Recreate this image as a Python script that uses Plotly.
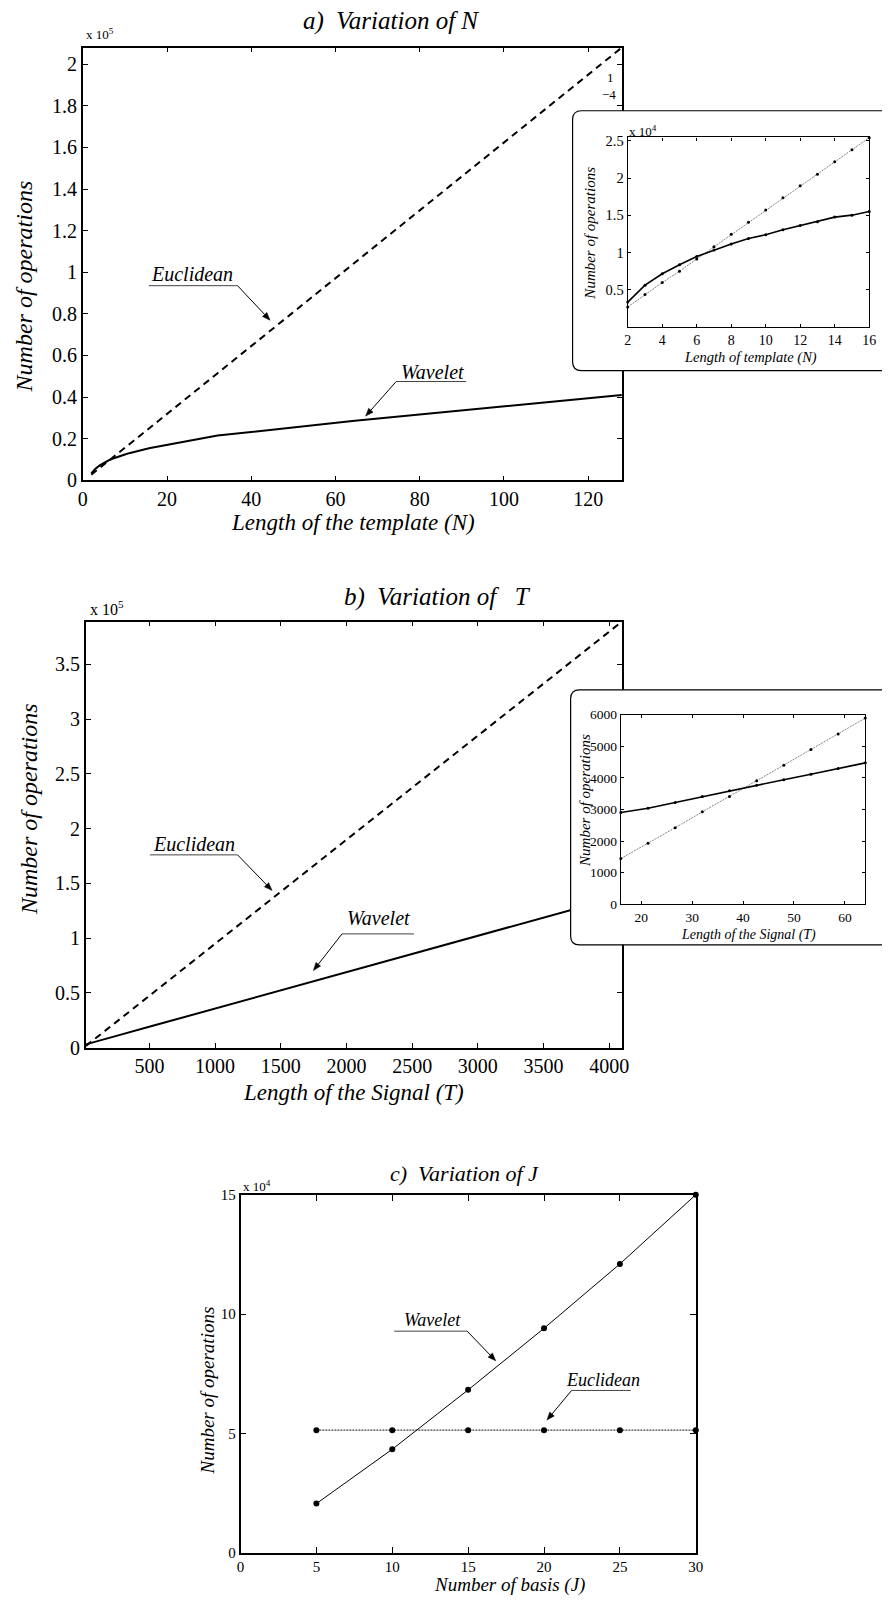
import math
import plotly.graph_objects as go

W, H = 890, 1606
F = "Liberation Serif"

# ---------------- data ----------------
# panel a (main)
N_main = [2, 3, 4, 5, 6, 7, 8, 9, 10, 11, 12, 13, 14, 15, 16, 32, 64, 128]
eu_a = [2710, 4370, 5980, 7510, 9130, 10790, 12450, 14060, 15720, 17340, 18950,
        20520, 22180, 23800, 25410, 51500, 103700, 208000]
wav_a = [3360, 5630, 7160, 8380, 9480, 10350, 11140, 11880, 12400, 13060, 13620,
         14150, 14760, 15020, 15500, 21500, 28500, 41000]
# panel a (inset)
N_in = [2, 3, 4, 5, 6, 7, 8, 9, 10, 11, 12, 13, 14, 15, 16]
eu_a_in = [2710, 4370, 5980, 7510, 9130, 10790, 12450, 14060, 15720, 17340, 18950,
           20520, 22180, 23800, 25410]
wav_a_in = [3360, 5630, 7160, 8380, 9480, 10350, 11140, 11880, 12400, 13060, 13620,
            14150, 14760, 15020, 15500]

# panel b (main)
T_main = [16, 32, 64, 128, 256, 512, 1024, 2048, 4096]
eu_b = [1446, 2923, 5887, 11960, 24120, 48440, 97080, 194360, 389000]
wav_b = [2903, 3405, 4472, 6600, 10900, 19400, 36500, 70500, 138500]
# panel b (inset)
T_in = [16, 21.33, 26.67, 32, 37.33, 42.67, 48, 53.33, 58.67, 64]
eu_b_in = [1446, 1928, 2421, 2923, 3405, 3908, 4400, 4892, 5385, 5887]
wav_b_in = [2903, 3036, 3220, 3405, 3590, 3764, 3938, 4113, 4297, 4472]

# panel c
J = [5, 10, 15, 20, 25, 30]
wav_c = [20500, 43300, 68200, 94000, 121000, 150000]
eu_c = [51300, 51300, 51300, 51300, 51300, 51300]

# tick labels
a_yt_vals = [0, 20000, 40000, 60000, 80000, 100000, 120000, 140000, 160000, 180000, 200000]
a_yt_text = ["0", "0.2", "0.4", "0.6", "0.8", "1", "1.2", "1.4", "1.6", "1.8", "2"]
a_xt_vals = [0, 20, 40, 60, 80, 100, 120]
ai_yt_vals = [5000, 10000, 15000, 20000, 25000]
ai_yt_text = ["0.5", "1", "1.5", "2", "2.5"]
ai_xt_vals = [2, 4, 6, 8, 10, 12, 14, 16]
b_yt_vals = [0, 50000, 100000, 150000, 200000, 250000, 300000, 350000]
b_yt_text = ["0", "0.5", "1", "1.5", "2", "2.5", "3", "3.5"]
b_xt_vals = [500, 1000, 1500, 2000, 2500, 3000, 3500, 4000]
bi_yt_vals = [0, 1000, 2000, 3000, 4000, 5000, 6000]
bi_xt_vals = [20, 30, 40, 50, 60]
c_yt_vals = [0, 50000, 100000, 150000]
c_yt_text = ["0", "5", "10", "15"]
c_xt_vals = [0, 5, 10, 15, 20, 25, 30]


def px(x):
    return x / W


def py(y):
    return 1 - y / H


def dom_x(l, r):
    return [max(0, l / W), min(1, r / W)]


def dom_y(t, b):
    return [max(0, 1 - b / H), min(1, 1 - t / H)]


def ax_style(dx, anchor, rng, tv, tt=None, fs=20, lw=1.5, tl=5, **kw):
    d = dict(domain=dx, anchor=anchor, range=rng, showline=True, linecolor="black",
             linewidth=lw, mirror="allticks", ticks="inside", ticklen=tl, tickwidth=1,
             tickcolor="black", showgrid=False, zeroline=False, tickvals=tv,
             tickfont=dict(family=F, size=fs, color="black"))
    if tt is not None:
        d["ticktext"] = tt
    d.update(kw)
    return d


def hidden(dx, anchor):
    return dict(domain=dx, anchor=anchor, range=[0, 1], visible=False, fixedrange=True)


fig = go.Figure()

# main a
fig.add_trace(go.Scatter(x=N_main, y=eu_a, mode="lines", xaxis="x", yaxis="y",
                         line=dict(color="black", width=2, dash="7px,5px")))
fig.add_trace(go.Scatter(x=N_main, y=wav_a, mode="lines", xaxis="x", yaxis="y",
                         line=dict(color="black", width=2)))
# box a (empty)
fig.add_trace(go.Scatter(x=[], y=[], xaxis="x2", yaxis="y2"))
# inset a
fig.add_trace(go.Scatter(x=N_in, y=eu_a_in, mode="lines+markers", xaxis="x3", yaxis="y3",
                         cliponaxis=False,
                         line=dict(color="#777777", width=0.9, dash="2px,1px"),
                         marker=dict(color="black", size=3)))
fig.add_trace(go.Scatter(x=N_in, y=wav_a_in, mode="lines+markers", xaxis="x3", yaxis="y3",
                         cliponaxis=False,
                         line=dict(color="black", width=1.6),
                         marker=dict(color="black", size=3)))
# main b
fig.add_trace(go.Scatter(x=T_main, y=eu_b, mode="lines", xaxis="x4", yaxis="y4",
                         line=dict(color="black", width=2, dash="7px,5px")))
fig.add_trace(go.Scatter(x=T_main, y=wav_b, mode="lines", xaxis="x4", yaxis="y4",
                         line=dict(color="black", width=2)))
# box b
fig.add_trace(go.Scatter(x=[], y=[], xaxis="x5", yaxis="y5"))
# inset b
fig.add_trace(go.Scatter(x=T_in, y=eu_b_in, mode="lines+markers", xaxis="x6", yaxis="y6",
                         cliponaxis=False,
                         line=dict(color="#777777", width=0.9, dash="2px,1px"),
                         marker=dict(color="black", size=3)))
fig.add_trace(go.Scatter(x=T_in, y=wav_b_in, mode="lines+markers", xaxis="x6", yaxis="y6",
                         cliponaxis=False,
                         line=dict(color="black", width=1.6),
                         marker=dict(color="black", size=3)))
# panel c
fig.add_trace(go.Scatter(x=J, y=eu_c, mode="lines+markers", xaxis="x7", yaxis="y7",
                         cliponaxis=False,
                         line=dict(color="#444444", width=1.4, dash="2px,1px"),
                         marker=dict(color="black", size=6)))
fig.add_trace(go.Scatter(x=J, y=wav_c, mode="lines+markers", xaxis="x7", yaxis="y7",
                         cliponaxis=False,
                         line=dict(color="black", width=1),
                         marker=dict(color="black", size=6)))

# geometry (pixels)
A = dict(l=79, r=626, t=40, b=478)
BA = dict(l=573, r=890, t=101, b=370)
IA = dict(l=632, r=877, t=131, b=323)
B = dict(l=82, r=626, t=621, b=1052)
BB = dict(l=571, r=890, t=687, b=951)
IB = dict(l=625, r=873, t=715, b=907)
C = dict(l=239, r=701, t=1201, b=1563)

layout = dict(
    width=W, height=H, margin=dict(l=0, r=0, t=0, b=0),
    paper_bgcolor="white", plot_bgcolor="rgba(0,0,0,0)", showlegend=False,
    font=dict(family=F, color="black"),
    xaxis=ax_style(dom_x(A["l"], A["r"]), "y", [0, 128], a_xt_vals),
    yaxis=ax_style(dom_y(A["t"], A["b"]), "x", [0, 208000], a_yt_vals, a_yt_text),
    xaxis2=hidden(dom_x(BA["l"], BA["r"]), "y2"),
    yaxis2=hidden(dom_y(BA["t"], BA["b"]), "x2"),
    xaxis3=ax_style(dom_x(IA["l"], IA["r"]), "y3", [2, 16], ai_xt_vals, fs=14, lw=1.3, tl=3),
    yaxis3=ax_style(dom_y(IA["t"], IA["b"]), "x3", [0, 25440], ai_yt_vals, ai_yt_text, fs=14.5, lw=1.3, tl=3),
    xaxis4=ax_style(dom_x(B["l"], B["r"]), "y4", [16, 4096], b_xt_vals),
    yaxis4=ax_style(dom_y(B["t"], B["b"]), "x4", [0, 389000], b_yt_vals, b_yt_text),
    xaxis5=hidden(dom_x(BB["l"], BB["r"]), "y5"),
    yaxis5=hidden(dom_y(BB["t"], BB["b"]), "x5"),
    xaxis6=ax_style(dom_x(IB["l"], IB["r"]), "y6", [16, 64], bi_xt_vals, fs=13.5, lw=1.3, tl=3),
    yaxis6=ax_style(dom_y(IB["t"], IB["b"]), "x6", [0, 6000], bi_yt_vals, fs=13.5, lw=1.3, tl=3),
    xaxis7=ax_style(dom_x(C["l"], C["r"]), "y7", [0, 30], c_xt_vals, fs=15, lw=1.5, tl=6),
    yaxis7=ax_style(dom_y(C["t"], C["b"]), "x7", [0, 150000], c_yt_vals, c_yt_text, fs=15, lw=1.5, tl=6),
)


def box_path(G, left, top, bottom, right=905, r=9):
    def ux(x):
        return (x - G["l"]) / (G["r"] - G["l"])

    def uy(y):
        return (G["b"] - y) / (G["b"] - G["t"])
    pts = [
        f"M {ux(left + r)},{uy(top)}",
        f"L {ux(right)},{uy(top)}",
        f"L {ux(right)},{uy(bottom)}",
        f"L {ux(left + r)},{uy(bottom)}",
        f"Q {ux(left)},{uy(bottom)} {ux(left)},{uy(bottom - r)}",
        f"L {ux(left)},{uy(top + r)}",
        f"Q {ux(left)},{uy(top)} {ux(left + r)},{uy(top)}",
        "Z",
    ]
    return " ".join(pts)


shapes = [
    dict(type="path", xref="x2", yref="y2", layer="below",
         path=box_path(BA, 576, 104, 367), fillcolor="white",
         line=dict(color="black", width=1.2)),
    dict(type="path", xref="x5", yref="y5", layer="below",
         path=box_path(BB, 574, 690, 948), fillcolor="white",
         line=dict(color="black", width=1.2)),
]

annotations = []


def text(x, y, s, size, xanchor="center", yanchor="middle", angle=0):
    annotations.append(dict(x=px(x), y=py(y), xref="paper", yref="paper", text=s,
                            showarrow=False, xanchor=xanchor, yanchor=yanchor,
                            textangle=angle, font=dict(family=F, size=size, color="black")))


def pointer(label, size, tx, ty, ul_l, ul_r, ul_y, tail, head, hl=8, hw=3):
    text(tx, ty, f"<i>{label}</i>", size)
    # underline
    shapes.append(dict(type="line", xref="paper", yref="paper", layer="above",
                       x0=px(ul_l), x1=px(ul_r), y0=py(ul_y), y1=py(ul_y),
                       line=dict(color="#444444", width=1)))
    # arrow shaft
    dx, dy = head[0] - tail[0], head[1] - tail[1]
    L = math.hypot(dx, dy)
    ux_, uy_ = dx / L, dy / L
    bx, by = head[0] - ux_ * hl, head[1] - uy_ * hl
    shapes.append(dict(type="line", xref="paper", yref="paper", layer="above",
                       x0=px(tail[0]), y0=py(tail[1]), x1=px(bx), y1=py(by),
                       line=dict(color="black", width=1)))
    # arrow head
    nx, ny = -uy_, ux_
    p1 = (bx + nx * hw, by + ny * hw)
    p2 = (bx - nx * hw, by - ny * hw)
    path = (f"M {px(head[0])},{py(head[1])} L {px(p1[0])},{py(p1[1])} "
            f"L {px(p2[0])},{py(p2[1])} Z")
    shapes.append(dict(type="path", xref="paper", yref="paper", layer="above", path=path,
                       fillcolor="black", line=dict(color="black", width=0.5)))


NB = "&nbsp;"
# panel a texts
text(392, 13, f"<i>a){NB}{NB}Variation of N</i>", 25)
text(80, 26, "x 10<sup>5</sup>", 13, xanchor="left")
text(19, 282, "<i>Number of operations</i>", 24, angle=-90)
text(353, 521, "<i>Length of the template (N)</i>", 23)
text(620, 70, "1", 13, xanchor="right")
text(622, 88, "−4", 13, xanchor="right")
pointer("Euclidean", 20, 190, 269, 146, 236, 281, (236, 281), (269, 316))
pointer("Wavelet", 20, 434, 368, 397, 468, 378, (397, 378), (366, 413))
# inset a texts
text(631, 124, "x 10<sup>4</sup>", 13, xanchor="left")
text(594, 228, "<i>Number of operations</i>", 15, angle=-90)
text(757, 354, "<i>Length of template (N)</i>", 14.5)

# panel b texts
text(439, 596, f"<i>b){NB}{NB}Variation of{NB}{NB}{NB}T</i>", 25)
text(84, 607, "x 10<sup>5</sup>", 16, xanchor="left")
text(25, 811, "<i>Number of operations</i>", 24, angle=-90)
text(354, 1097, "<i>Length of the Signal (T)</i>", 23)
pointer("Euclidean", 20, 192, 846, 147, 236, 857, (236, 857), (271, 893))
pointer("Wavelet", 20, 379, 921, 342, 415, 937, (342, 937), (313, 974))
# inset b texts
text(588, 802, "<i>Number of operations</i>", 15, angle=-90)
text(755, 938, "<i>Length of the Signal (T)</i>", 14)

# panel c texts
text(466, 1179, f"<i>c){NB}{NB}Variation of J</i>", 22)
text(240, 1192, "x 10<sup>4</sup>", 13, xanchor="left")
text(205, 1399, "<i>Number of operations</i>", 19, angle=-90)
text(512, 1596, "<i>Number of basis (J)</i>", 19)
pointer("Wavelet", 18, 434, 1328, 395, 469, 1339, (469, 1339), (498, 1369))
pointer("Euclidean", 18, 607, 1388, 575, 635, 1399, (575, 1399), (550, 1429))

layout["shapes"] = shapes
layout["annotations"] = annotations
fig.update_layout(**layout)
fig.write_html("out.html")
